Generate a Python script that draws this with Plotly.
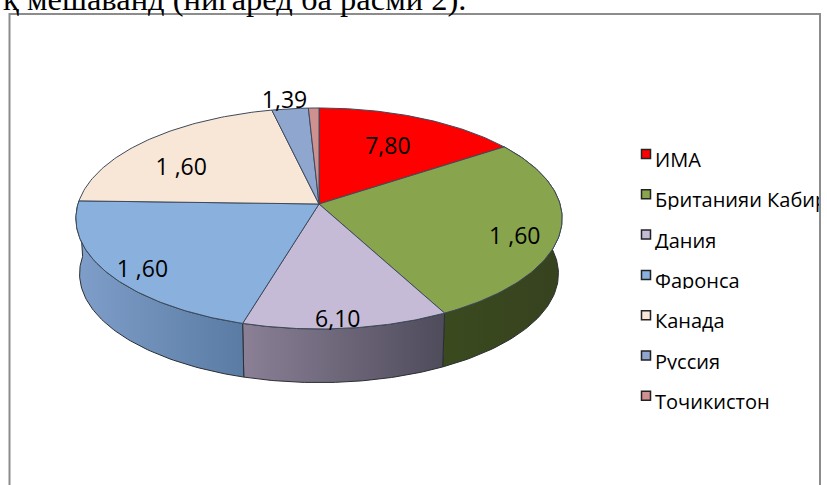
import math
import plotly.graph_objects as go

categories = ["ИМА", "Британияи Кабир", "Дания", "Фаронса", "Канада", "Руссия", "Точикистон"]
values = [7.80, 13.60, 6.10, 10.60, 10.60, 1.39, 0.40]
value_labels = ["7,80", "1 ,60", "6,10", "1 ,60", "1 ,60", "1,39", ""]
colors = ["#FF0000", "#88A54E", "#C5BBD6", "#8AB0DE", "#F8E6D6", "#8FA6CF", "#CF9090"]
heading = "қ мешаванд (нигаред ба расми 2)."

# Perspective model of the tilted disc
CX, CY = 319, 204
A, B, K = 241, 108.6, 0.131
DEPTH, BOTTOM_SCALE = 55.5, 0.985

def project(theta, r=1.0, scale=1.0, dy=0.0):
    u, v = r * math.sin(theta), r * math.cos(theta)
    w = 1 + K * v
    return CX + scale * A * u / w, CY + dy - scale * B * v / w

def arc(a0, a1, n=80, **kw):
    pts = [project(a0 + (a1 - a0) * i / n, **kw) for i in range(n + 1)]
    return [p[0] for p in pts], [p[1] for p in pts]

total = sum(values)
bounds = [0.0]
for val in values:
    bounds.append(bounds[-1] + val / total * 2 * math.pi)

fig = go.Figure()

wall_styles = {
    1: [[0, "#3A4A1E"], [1, "#37421F"]],
    2: [[0, "#8B8096"], [1, "#4E4B5B"]],
    3: [[0, "#7F9FCA"], [1, "#5A7BA3"]],
}
for i, scale in wall_styles.items():
    a0, a1 = bounds[i], bounds[i + 1]
    x1, y1 = arc(a0, a1)
    x2, y2 = arc(a0, a1, scale=BOTTOM_SCALE, dy=DEPTH)
    xs, ys = x1 + x2[::-1] + x1[:1], y1 + y2[::-1] + y1[:1]
    fig.add_trace(go.Scatter(
        x=xs, y=ys, mode="lines", fill="toself",
        fillgradient=dict(type="horizontal", colorscale=scale),
        line=dict(color="#2B2F33", width=1), hoverinfo="skip", showlegend=False))

for i, name in enumerate(categories):
    xa, ya = arc(bounds[i], bounds[i + 1])
    xs, ys = [CX] + xa + [CX], [CY] + ya + [CY]
    fig.add_trace(go.Scatter(
        x=xs, y=ys, mode="lines", fill="toself", fillcolor=colors[i],
        line=dict(color="#3D4A5C", width=1), name=name, showlegend=False, hoverinfo="name"))

# value labels: slice mid angle, radius factor, then a small nudge in pixels
label_r = [0.66, 0.82, 0.98, 0.83, 0.68, 1.10, 0.0]
nudge = [(0, 3), (-1, 12), (-8, -4), (-4, 10), (-18, 10), (-3, 2), (0, 0)]
lx, ly = [], []
for i in range(len(values)):
    px, py = project((bounds[i] + bounds[i + 1]) / 2, r=label_r[i])
    lx.append(px + nudge[i][0])
    ly.append(py + nudge[i][1])
fig.add_trace(go.Scatter(
    x=lx, y=ly, mode="text", text=value_labels, textposition="middle center",
    textfont=dict(family="Open Sans, Liberation Sans, sans-serif", size=23, color="#000000"),
    hoverinfo="skip", showlegend=False))

# legend
leg_y = [154 + 40.3 * i for i in range(len(categories))]
fig.add_trace(go.Scatter(
    x=[646] * len(categories), y=leg_y, mode="markers",
    marker=dict(symbol="square", size=9, color=colors, line=dict(color="#222222", width=1.5)),
    hoverinfo="skip", showlegend=False))
fig.add_trace(go.Scatter(
    x=[655] * len(categories), y=[v + 8 for v in leg_y], mode="text", text=categories,
    textposition="middle right", cliponaxis=False,
    textfont=dict(family="Open Sans, sans-serif", size=20, color="#000000"),
    hoverinfo="skip", showlegend=False))

# white masks reproduce the clipped legend text of the original bitmap
masks = [(820.5, 100, 827, 460)]
clip_offsets = [15.5, 15.5, 14, 17, 14, 15.5]
for y, off in zip(leg_y[1:], clip_offsets):
    masks.append((652, y + off, 815, y + off + 9))
shapes = [dict(type="rect", xref="x", yref="y", x0=a, y0=b, x1=c, y1=d, layer="above",
               fillcolor="#FFFFFF", line=dict(width=0)) for a, b, c, d in masks]
shapes.append(dict(type="rect", xref="x", yref="y", x0=9.5, y0=14, x1=820, y1=600, layer="above",
                   fillcolor="rgba(0,0,0,0)", line=dict(color="#8C8C8C", width=2)))

fig.update_layout(
    width=827, height=485, margin=dict(l=0, r=0, t=0, b=0),
    paper_bgcolor="#FFFFFF", plot_bgcolor="#FFFFFF", showlegend=False, shapes=shapes,
    xaxis=dict(range=[0, 827], visible=False, fixedrange=True),
    yaxis=dict(range=[485, 0], visible=False, fixedrange=True),
    annotations=[dict(
        text=heading, x=0, y=1, xref="paper", yref="paper", xanchor="left", yanchor="middle",
        xshift=2, yshift=1, showarrow=False, borderpad=0,
        font=dict(family="Liberation Serif, serif", size=32.5, color="#000000"))])
fig.write_html("out.html", config={"displayModeBar": False},
               post_script="document.body.style.margin='0';document.body.style.overflow='hidden';")
